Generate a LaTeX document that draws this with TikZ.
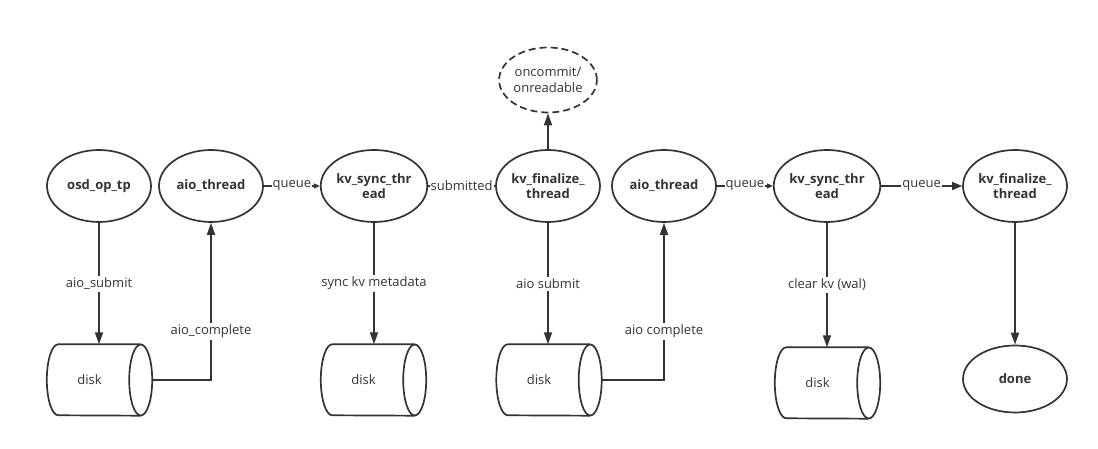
\documentclass[tikz,border=0pt]{standalone}
\usepackage{fontspec}
\setmainfont{Open Sans}
\usetikzlibrary{arrows.meta,calc,shapes.geometric}
\definecolor{ink}{HTML}{333333}
\tikzset{
  proc/.style={ellipse, draw=ink, line width=1.7pt, minimum width=104pt, minimum height=72pt, inner sep=0pt, align=center, font=\bfseries\fontsize{13}{15.5}\selectfont, text=ink},
  dashproc/.style={ellipse, draw=ink, line width=1.7pt, dashed, dash pattern=on 7pt off 4pt, minimum width=93pt, minimum height=65pt, inner sep=0pt, align=center, font=\fontsize{13}{15.5}\selectfont, text=ink},
  diskbox/.style={rectangle, minimum width=105pt, minimum height=71pt, inner sep=0pt, font=\fontsize{13}{15}\selectfont, text=ink},
  diskline/.style={draw=ink, line width=1.7pt},
  arr/.style={draw=ink, line width=1.7pt, -{Triangle[length=12pt,width=8pt]}},
  sarr/.style={draw=ink, line width=1.7pt, -{Triangle[length=6pt,width=5pt]}},
  marr/.style={draw=ink, line width=1.7pt, -{Triangle[length=10pt,width=8pt]}},
  plain/.style={draw=ink, line width=1.7pt},
  lab/.style={fill=white, inner xsep=1pt, inner ysep=2pt, font=\fontsize{13}{15}\selectfont, text=ink}
}
\newcommand\mydisk[3]{%
  \node[diskbox] (#1) at (#2,#3) {\hspace*{-20pt}disk};
  \draw[diskline] ($(#1.north east)+(-11.5,0)$) -- ($(#1.north west)+(11.5,0)$)
     arc[start angle=90,end angle=270,x radius=11.5,y radius=35.5]
     -- ($(#1.south east)+(-11.5,0)$);
  \draw[diskline] ($(#1.east)+(-11.5,0)$) ellipse[x radius=11.5,y radius=35.5];
}
\begin{document}
\begin{tikzpicture}[x=1pt,y=1pt]
\useasboundingbox (0,0) rectangle (1098,449);
% top row
\node[proc] (A) at (99,263) {osd\_op\_tp};
\node[proc] (B) at (211,263) {aio\_thread};
\node[proc] (C) at (374,263) {kv\_sync\_thr\\ead};
\node[proc] (D) at (548,263) {kv\_finalize\_\\thread};
\node[proc] (E) at (664,263) {aio\_thread};
\node[proc] (F) at (827,263) {kv\_sync\_thr\\ead};
\node[proc] (G) at (1015,263) {kv\_finalize\_\\thread};
\node[dashproc] (O) at (548,369) {oncommit/\\onreadable};
% bottom row
\mydisk{d1}{99.5}{69}
\mydisk{d2}{373.5}{69}
\mydisk{d3}{549}{69}
\mydisk{d4}{827.5}{66}
\node[proc, minimum height=67pt] (done) at (1015,70) {done};
% connectors
\draw[arr] (A) -- (A |- d1.north) node[lab, midway] {aio\_submit};
\draw[arr] (d1.east) -| (B.south) node[lab, pos=0.655] {aio\_complete};
\draw[sarr] (B) -- (C) node[lab, midway] {queue};
\draw[plain] (C) -- (D) node[lab, midway] {submitted};
\draw[arr] (C) -- (C |- d2.north) node[lab, midway] {sync kv metadata};
\draw[arr] (D) -- (O);
\draw[arr] (D) -- (D |- d3.north) node[lab, midway] {aio submit};
\draw[arr] (d3.east) -| (E.south) node[lab, pos=0.655] {aio complete};
\draw[sarr] (E) -- (F) node[lab, midway] {queue};
\draw[marr] (F) -- (G) node[lab, midway] {queue};
\draw[arr] (F) -- (F |- d4.north) node[lab, midway] {clear kv (wal)};
\draw[arr] (G) -- (done);
\end{tikzpicture}
\end{document}
